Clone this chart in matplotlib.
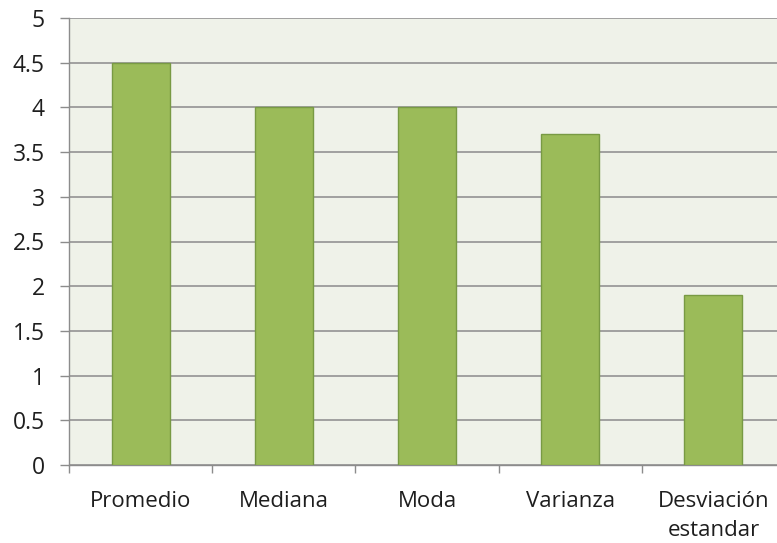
import matplotlib.pyplot as plt
from matplotlib.ticker import FixedLocator, NullFormatter

categories = ["Promedio", "Mediana", "Moda", "Varianza", "Desviación\nestandar"]
values = [4.5, 4.0, 4.0, 3.7, 1.9]
y_ticks = [0, 0.5, 1, 1.5, 2, 2.5, 3, 3.5, 4, 4.5, 5]
y_tick_labels = ["0", "0.5", "1", "1.5", "2", "2.5", "3", "3.5", "4", "4.5", "5"]

plt.rcParams['font.family'] = ['Open Sans', 'DejaVu Sans']

W, H = 777, 543
fig = plt.figure(figsize=(W / 100, H / 100), dpi=100)
fig.patch.set_facecolor('white')

left, right, top, bottom = 69, 785, 18, 465
ax = fig.add_axes([left / W, 1 - bottom / H, (right - left) / W, (bottom - top) / H])
ax.set_facecolor('#EFF2E9')

x = list(range(len(categories)))
ax.set_axisbelow(True)
ax.yaxis.grid(True, color='#9A9A9A', linewidth=1.3)
ax.bar(x, values, width=0.405, color='#9BBB59', edgecolor='#789A44', linewidth=1.0, zorder=3)

ax.set_xlim(-0.5, len(categories) - 0.5)
ax.set_ylim(0, 5)
ax.set_yticks(y_ticks)
ax.set_yticklabels(y_tick_labels)

# category labels at centers, tick marks at category boundaries
ax.set_xticks(x)
ax.set_xticklabels(categories, fontsize=16, color='#1E1E1E', linespacing=1.45)
ax.tick_params(axis='x', which='major', length=0, pad=19)
ax.xaxis.set_minor_locator(FixedLocator([i - 0.5 for i in range(len(categories) + 1)]))
ax.xaxis.set_minor_formatter(NullFormatter())
ax.tick_params(axis='x', which='minor', length=6, width=1.0, color='#8C8C8C')
ax.tick_params(axis='y', length=6.5, width=1.0, color='#8C8C8C', pad=11,
               labelsize=16.5, labelcolor='#1E1E1E')

for s in ['top', 'right']:
    ax.spines[s].set_visible(False)
for s in ['left', 'bottom']:
    ax.spines[s].set_color('#8C8C8C')
    ax.spines[s].set_linewidth(1.0)

fig.savefig('out.png', dpi=100)
